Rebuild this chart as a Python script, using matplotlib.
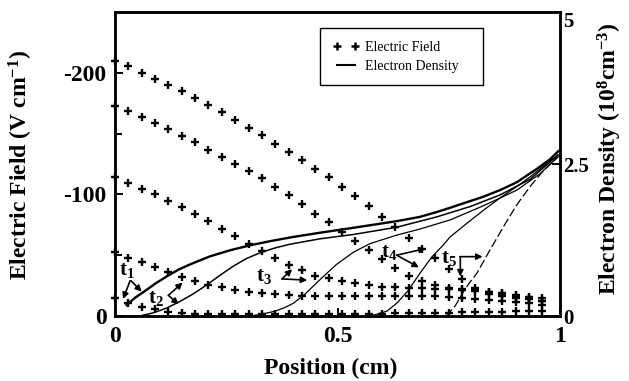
import matplotlib
matplotlib.use('Agg')
import matplotlib.pyplot as plt
from matplotlib.lines import Line2D

plt.rcParams['font.family'] = ['Liberation Serif', 'DejaVu Serif']
plt.rcParams['mathtext.fontset'] = 'custom'
plt.rcParams['mathtext.rm'] = 'Liberation Serif'
plt.rcParams['mathtext.bf'] = 'Liberation Serif:bold'
plt.rcParams['mathtext.it'] = 'Liberation Serif:italic'
plt.rcParams['mathtext.default'] = 'bf'

# ---------------- data ----------------
position = [0.00, 0.03, 0.06, 0.09, 0.12, 0.15, 0.18, 0.21, 0.24, 0.27, 0.30,
            0.33, 0.36, 0.39, 0.42, 0.45, 0.48, 0.51, 0.54, 0.57, 0.60, 0.63,
            0.66, 0.69, 0.72, 0.75, 0.78, 0.81, 0.84, 0.87, 0.90, 0.93, 0.96]

field_1 = [-209.3, -205.2, -200.0, -195.3, -190.2, -184.7, -179.5, -173.5, -168.0,
           -161.5, -154.9, -148.6, -141.8, -135.0, -128.4, -121.1, -113.9, -106.0,
           -98.4, -90.2, -81.4, -73.2, -64.2, -55.5, -47.3, -38.5, -30.1, -23.0,
           -19.7, -18.0, -16.4, -15.2, -14.8]
field_2 = [-173.0, -168.3, -163.4, -158.8, -153.5, -148.1, -142.9, -136.9, -131.1,
           -125.2, -118.9, -113.1, -106.0, -99.2, -91.8, -84.2, -77.0, -69.1,
           -61.5, -54.1, -46.7, -39.1, -32.8, -28.7, -25.4, -23.4, -22.1, -21.3,
           -20.1, -18.9, -17.2, -15.6, -12.3]
field_3 = [-114.2, -109.3, -104.7, -100.0, -94.3, -89.6, -84.2, -77.9, -71.9,
           -65.8, -59.6, -53.5, -47.3, -41.8, -37.7, -32.8, -30.9, -28.7, -26.8,
           -25.4, -24.0, -23.5, -23.0, -22.7, -22.5, -22.1, -21.7, -20.5, -18.4,
           -16.8, -15.2, -13.9, -12.7]
field_4 = [-52.7, -48.1, -44.5, -39.9, -36.1, -32.0, -28.7, -25.8, -23.5, -21.3,
           -19.7, -18.6, -18.0, -17.2, -16.8, -16.4, -16.4, -16.4, -16.4, -16.4,
           -16.4, -16.4, -16.4, -16.4, -16.4, -15.6, -14.8, -13.9, -13.1, -12.3,
           -11.5, -10.7, -9.0]
field_5 = [-14.5, -10.4, -7.6, -5.5, -3.5, -2.5, -1.6, -1.6, -1.6, -1.6, -1.6,
           -1.6, -1.6, -1.6, -1.7, -1.7, -1.8, -1.8, -1.9, -1.9, -2.0, -2.1, -2.3,
           -2.5, -2.7, -2.8, -2.9, -3.1, -3.3, -3.5, -3.8, -4.0, -4.3]

dens1_x = [0.026, 0.045, 0.071, 0.092, 0.116, 0.142, 0.169, 0.213, 0.258, 0.302,
           0.348, 0.400, 0.461, 0.535, 0.633, 0.685, 0.723, 0.753, 0.798, 0.827,
           0.865, 0.903, 0.948, 0.978, 0.996]
dens1_y = [0.18, 0.30, 0.43, 0.54, 0.65, 0.76, 0.85, 0.98, 1.08, 1.16, 1.23, 1.30,
           1.37, 1.45, 1.56, 1.63, 1.71, 1.78, 1.89, 1.96, 2.07, 2.20, 2.42, 2.58,
           2.71]
dens2_x = [0.056, 0.085, 0.116, 0.146, 0.175, 0.206, 0.236, 0.266, 0.294, 0.326,
           0.360, 0.393, 0.461, 0.535, 0.633, 0.723, 0.798, 0.865, 0.933, 0.996]
dens2_y = [0.00, 0.05, 0.13, 0.24, 0.36, 0.51, 0.67, 0.82, 0.94, 1.04, 1.12, 1.18,
           1.27, 1.34, 1.46, 1.63, 1.80, 1.99, 2.25, 2.65]
dens3_x = [0.303, 0.330, 0.360, 0.382, 0.401, 0.427, 0.461, 0.498, 0.536, 0.573,
           0.633, 0.685, 0.753, 0.827, 0.903, 0.955, 0.996]
dens3_y = [0.00, 0.03, 0.08, 0.14, 0.21, 0.36, 0.60, 0.85, 1.05, 1.19, 1.33, 1.43,
           1.58, 1.81, 2.07, 2.34, 2.62]
dens4_x = [0.562, 0.584, 0.611, 0.633, 0.658, 0.685, 0.712, 0.738, 0.753, 0.790,
           0.828, 0.865, 0.903, 0.935, 0.970, 0.996]
dens4_y = [0.00, 0.02, 0.08, 0.21, 0.41, 0.70, 0.97, 1.17, 1.30, 1.52, 1.74, 1.94,
           2.13, 2.30, 2.51, 2.65]
dens5_x = [0.744, 0.764, 0.783, 0.798, 0.813, 0.843, 0.873, 0.903, 0.935, 0.964,
           0.996]
dens5_y = [0.00, 0.16, 0.40, 0.56, 0.70, 1.09, 1.47, 1.83, 2.15, 2.40, 2.62]

x_ticks = [0, 0.5, 1]
x_ticklabels = ['0', '0.5', '1']
left_ticks = [0, -100, -200]
left_ticklabels = ['0', '-100', '-200']
left_minor = [-50, -150]
right_ticks = [0, 2.5, 5]
right_ticklabels = ['0', '2.5', '5']

# ---------------- figure ----------------
W, H = 629, 381
fig = plt.figure(figsize=(W / 100, H / 100), dpi=100)
L, R, T, B = 115, 560, 12, 316
ax = fig.add_axes([L / W, 1 - B / H, (R - L) / W, (B - T) / H])
ax2 = ax.twinx()

ax.set_xlim(0, 1)
ax.set_ylim(0, -250)
ax2.set_ylim(0, 5)

mk = dict(ls='none', marker='+', ms=5.5, mew=1.7, color='black')
for s in (field_1, field_2, field_3, field_4, field_5):
    ax.plot(position, s, clip_on=False, zorder=3, **mk)

ax2.plot(dens1_x, dens1_y, color='black', lw=1.7)
ax2.plot(dens2_x, dens2_y, color='black', lw=1.1)
ax2.plot(dens3_x, dens3_y, color='black', lw=0.9)
ax2.plot(dens4_x, dens4_y, color='black', lw=0.9)
ax2.plot(dens5_x, dens5_y, color='black', lw=0.9, dashes=(7, 2.5))

# ticks
ax.set_xticks(x_ticks)
ax.set_xticklabels(x_ticklabels, fontsize=17, fontweight='bold')
ax.set_yticks(left_ticks)
ax.set_yticklabels(left_ticklabels, fontsize=17, fontweight='bold')
ax.set_yticks(left_minor, minor=True)
ax2.set_yticks(right_ticks)
ax2.set_yticklabels(right_ticklabels, fontsize=15, fontweight='bold')
ax2.get_yticklabels()[-1].set_va('top')
ax2.get_yticklabels()[0].set_va('center_baseline')
ax.tick_params(axis='both', which='major', direction='in', length=6, width=1.4, pad=6)
ax.tick_params(axis='y', which='minor', direction='in', length=5, width=1.4)
ax.tick_params(axis='x', which='major', pad=7)
ax2.tick_params(axis='y', direction='in', length=6, width=1.4, pad=2)
for a in (ax, ax2):
    for sp in a.spines.values():
        sp.set_linewidth(1.8)

# axis labels
fig.text(331 / W, 1 - 368 / H, 'Position (cm)', ha='center', va='center',
         fontsize=17, fontweight='bold')
fig.text(21 / W, 1 - 164.5 / H, r'Electric Field (V cm$^{-1}$)', ha='center',
         va='center', rotation=90, fontsize=17, fontweight='bold')
fig.text(610 / W, 1 - 159 / H, r'Electron Density (10$^{8}$cm$^{-3}$)', ha='center',
         va='center', rotation=90, fontsize=17, fontweight='bold')

# legend
handles = [Line2D([], [], ls='none', marker='+', ms=6, mew=1.8, color='black'),
           Line2D([], [], color='black', lw=1.5)]
leg = ax2.legend(handles, ['Electric Field', 'Electron Density'], loc='upper left',
                 bbox_to_anchor=(0.461, 0.76, 0.366, 0.187), mode='expand',
                 borderaxespad=0, numpoints=2, handlelength=1.9, handletextpad=0.4,
                 borderpad=0.9, labelspacing=0.45, fancybox=False, framealpha=1,
                 edgecolor='black', prop={'family': 'Liberation Serif', 'size': 10})
leg.get_frame().set_linewidth(1.0)

# annotations (in field-axis data coordinates)
arw = dict(arrowstyle='-|>', color='black', lw=1.2, mutation_scale=9,
           shrinkA=0, shrinkB=0)
tk = dict(fontsize=15, fontweight='bold', ha='center', va='center', zorder=5)

ax.text(0.027, -37.7, r't$_1$', **tk)
ax.annotate('', xy=(0.018, -14.0), xytext=(0.034, -29.0), arrowprops=arw)
ax.annotate('', xy=(0.060, -20.0), xytext=(0.036, -29.0), arrowprops=arw)

ax.text(0.092, -14.8, r't$_2$', **tk)
ax.annotate('', xy=(0.152, -27.5), xytext=(0.120, -17.0), arrowprops=arw)
ax.annotate('', xy=(0.143, -9.5), xytext=(0.120, -17.0), arrowprops=arw)

ax.text(0.335, -32.8, r't$_3$', **tk)
ax.annotate('', xy=(0.398, -38.5), xytext=(0.375, -30.5), arrowprops=arw)
ax.annotate('', xy=(0.432, -29.5), xytext=(0.375, -30.5), arrowprops=arw)

ax.text(0.616, -52.5, r't$_4$', **tk)
ax.annotate('', xy=(0.698, -55.5), xytext=(0.633, -50.0), arrowprops=arw)
ax.annotate('', xy=(0.683, -40.0), xytext=(0.633, -50.0), arrowprops=arw)

ax.text(0.750, -47.5, r't$_5$', **tk)
ax.annotate('', xy=(0.826, -48.8), xytext=(0.775, -48.8), arrowprops=arw)
ax.annotate('', xy=(0.776, -32.5), xytext=(0.776, -48.8), arrowprops=arw)

fig.savefig('out.png', dpi=100)
